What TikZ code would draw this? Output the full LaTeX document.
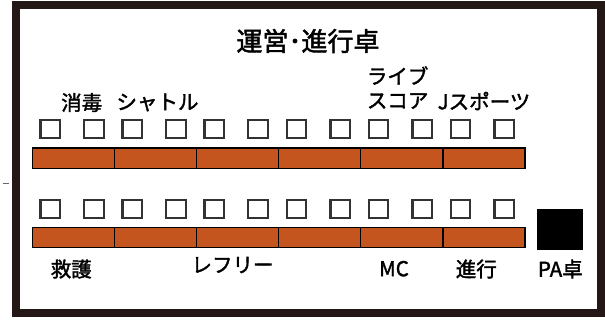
\documentclass[tikz,border=0pt]{standalone}
\usepackage{fontspec}
\setmainfont{Noto Sans CJK JP}[FakeBold=1.8]
\usepackage{tikz}
\usetikzlibrary{positioning}
\definecolor{framecol}{RGB}{35,24,21}
\definecolor{deskorange}{RGB}{197,85,30}
\tikzset{
  seg/.style={draw=black, line width=1.5pt, fill=deskorange, minimum width=82.05pt, minimum height=20.2pt, inner sep=0pt, anchor=north west},
  chair/.style={draw=black!80, line width=2.2pt, fill=white, minimum width=19.5pt, minimum height=18pt, inner sep=0pt},
  lbl/.style={font=\fontsize{20.5}{24}\selectfont, inner sep=0pt},
  titlelbl/.style={font=\fontsize{26}{28}\selectfont, inner sep=0pt}
}
\begin{document}
\begin{tikzpicture}[x=1pt,y=-1pt]
    \useasboundingbox (0,0) rectangle (605,322);
    \draw[framecol, line width=8pt] (16,5) rectangle (601,313);
    \draw[black!60, line width=0.6pt] (3,183) -- (9,183);
    \node[titlelbl] (title) at (308,41) {運営･進行卓};
    \foreach \i in {0,...,5}{
        \node[seg] (top\i) at (31.75+82.05*\i,147.4) {};
        \node[seg] (bot\i) at (31.75+82.05*\i,226.7) {};
        \foreach \d/\s in {18.45/a,62.25/b}{
            \node[chair] (top\i\s) at (31.75+82.05*\i+\d,129.3) {};
            \node[chair] (bot\i\s) at (31.75+82.05*\i+\d,209.2) {};
        }
    }
    \node[fill=black, minimum width=46pt, minimum height=41pt, inner sep=0pt, anchor=north west] (pa) at (536.3,209) {};
    \node[lbl] (shodoku) at (81.7,102.5) {消毒};
    \node[lbl] (shuttle) at (157.5,102.5) {シャトル};
    \node[lbl, anchor=west] (live) at (366.7,75.5) {ライブ};
    \node[lbl, anchor=west] (score) at (366.7,101) {スコア};
    \node[lbl] (jsports) at (484,101) {Jスポーツ};
    \node[lbl] (kyugo) at (71.2,269) {救護};
    \node[lbl] (referee) at (232.5,265) {レフリー};
    \node[lbl] (mc) at (394,268.7) {MC};
    \node[lbl] (shinko) at (476.3,269) {進行};
    \node[lbl] (palbl) at (560.3,269) {PA卓};
\end{tikzpicture}
\end{document}
